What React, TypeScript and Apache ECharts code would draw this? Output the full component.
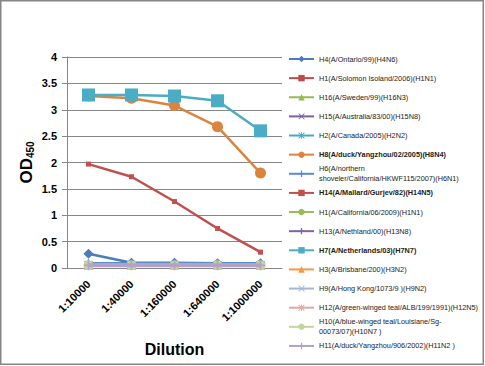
import React, { useEffect, useRef } from "react";
import * as echarts from "echarts";

const categories = ["1:10000", "1:40000", "1:160000", "1:640000", "1:1000000"];

const seriesNames = [
  "H4(A/Ontario/99)(H4N6)",
  "H1(A/Solomon Isoland/2006)(H1N1)",
  "H16(A/Sweden/99)(H16N3)",
  "H15(A/Australia/83/00)(H15N8)",
  "H2(A/Canada/2005)(H2N2)",
  "H8(A/duck/Yangzhou/02/2005)(H8N4)",
  "H6(A/northern\nshoveler/California/HKWF115/2007)(H6N1)",
  "H14(A/Mallard/Gurjev/82)(H14N5)",
  "H1(A/California/06/2009)(H1N1)",
  "H13(A/Nethland/00)(H13N8)",
  "H7(A/Netherlands/03)(H7N7)",
  "H3(A/Brisbane/200)(H3N2)",
  "H9(A/Hong Kong/1073/9 )(H9N2)",
  "H12(A/green-winged teal/ALB/199/1991)(H12N5)",
  "H10(A/blue-winged teal/Louisiane/Sg-\n00073/07)(H10N7 )",
  "H11(A/duck/Yangzhou/906/2002)(H11N2 )",
];

const h4 = [0.27, 0.1, 0.1, 0.09, 0.09];
const h1Solomon = [0.06, 0.06, 0.06, 0.06, 0.06];
const h16 = [0.07, 0.07, 0.07, 0.07, 0.07];
const h15 = [0.06, 0.06, 0.06, 0.06, 0.06];
const h2 = [0.06, 0.06, 0.06, 0.06, 0.06];
const h8 = [3.26, 3.22, 3.08, 2.68, 1.8];
const h6 = [0.09, 0.09, 0.09, 0.09, 0.09];
const h14 = [1.97, 1.73, 1.26, 0.75, 0.3];
const h1California = [0.07, 0.07, 0.07, 0.07, 0.07];
const h13 = [0.05, 0.05, 0.05, 0.05, 0.05];
const h7 = [3.28, 3.28, 3.26, 3.17, 2.6];
const h3 = [0.05, 0.05, 0.05, 0.05, 0.05];
const h9 = [0.05, 0.05, 0.05, 0.05, 0.05];
const h12 = [0.05, 0.05, 0.05, 0.05, 0.05];
const h10 = [0.05, 0.05, 0.05, 0.05, 0.05];
const h11 = [0.05, 0.05, 0.05, 0.05, 0.05];

const seriesValues = [h4, h1Solomon, h16, h15, h2, h8, h6, h14, h1California, h13, h7, h3, h9, h12, h10, h11];

const yTicks = ["0", "0.5", "1", "1.5", "2", "2.5", "3", "3.5", "4"];

const X_PATH = "path://M0 1L1 0L5 4L9 0L10 1L6 5L10 9L9 10L5 6L1 10L0 9L4 5Z";
const PLUS_PATH = "path://M4 0H6V4H10V6H6V10H4V6H0V4H4Z";
const STAR_PATH =
  "path://M0 1L1 0L5 4L9 0L10 1L6 5L10 9L9 10L5 6L1 10L0 9L4 5ZM4.3 0H5.7V10H4.3Z";

const styles = [
  { color: "#4A7EBB", symbol: "diamond", size: 10 },
  { color: "#BE4B48", symbol: "rect", size: 6 },
  { color: "#98B954", symbol: "triangle", size: 8 },
  { color: "#7D60A0", symbol: X_PATH, size: 8 },
  { color: "#46AAC5", symbol: STAR_PATH, size: 8 },
  { color: "#DB843D", symbol: "circle", size: 11 },
  { color: "#5B8BCB", symbol: PLUS_PATH, size: 8 },
  { color: "#C0504D", symbol: "rect", size: 5 },
  { color: "#9BBB59", symbol: "none", size: 0 },
  { color: "#8064A2", symbol: PLUS_PATH, size: 9 },
  { color: "#4BACC6", symbol: "rect", size: 13 },
  { color: "#F79646", symbol: "triangle", size: 9 },
  { color: "#A5B6D8", symbol: X_PATH, size: 9 },
  { color: "#DFA7A6", symbol: STAR_PATH, size: 9 },
  { color: "#C3D69B", symbol: "circle", size: 10 },
  { color: "#B3A2C7", symbol: PLUS_PATH, size: 9 },
];

const boldNames = new Set([5, 7, 10]);

export default function App() {
  const ref = useRef<HTMLDivElement>(null);
  useEffect(() => {
    document.body.style.margin = "0";
    if (!ref.current) return;
    const chart = echarts.init(ref.current, undefined, { renderer: "svg" });

    const series = seriesNames.map((name, i) => ({
      name,
      type: "line",
      data: seriesValues[i],
      symbol: styles[i].symbol,
      symbolSize: styles[i].size,
      showSymbol: styles[i].symbol !== "none",
      lineStyle: { color: styles[i].color, width: i === 15 ? 4 : 2.5 },
      itemStyle: { color: styles[i].color },
      z: 2 + i,
    }));

    const legends = seriesNames.map((name, i) => {
      const twoLine = name.includes("\n");
      const center = 59 + i * 19.13;
      return {
        show: true,
        orient: "vertical",
        left: 288,
        top: twoLine ? center - 15 : center - 5,
        padding: 0,
        itemWidth: 25,
        itemHeight: 8,
        itemGap: 0,
        data: [name],
        selectedMode: false,
        textStyle: {
          fontFamily: "Liberation Sans",
          fontSize: 7.3,
          lineHeight: 10,
          color: "#1a1a1a",
          fontWeight: boldNames.has(i) ? "bold" : "normal",
          padding: twoLine ? [10, 0, 0, 0] : 0,
        },
      };
    });

    chart.setOption({
      animation: false,
      backgroundColor: "#ffffff",
      grid: { left: 67, top: 57, width: 215, height: 211, containLabel: false },
      legend: legends,
      graphic: [
        {
          type: "rect",
          shape: { x: 0.75, y: 0.75, width: 482.5, height: 363.5 },
          style: { fill: "none", stroke: "#868686", lineWidth: 1.5 },
          silent: true,
          z: 100,
        },
      ],
      xAxis: {
        type: "category",
        data: categories,
        boundaryGap: true,
        name: "Dilution",
        nameLocation: "middle",
        nameGap: 73,
        nameTextStyle: { fontFamily: "Liberation Sans", fontSize: 16, fontWeight: "bold", color: "#000" },
        axisLine: { lineStyle: { color: "#868686", width: 1 } },
        axisTick: { show: false },
        axisLabel: {
          rotate: 45,
          margin: 14,
          fontFamily: "Liberation Sans",
          fontSize: 11,
          fontWeight: "bold",
          color: "#000",
        },
      },
      yAxis: {
        type: "value",
        min: 0,
        max: 4,
        interval: 0.5,
        name: "{a|OD}{s|450}",
        nameLocation: "middle",
        nameRotate: 90,
        nameGap: 32,
        nameTextStyle: {
          rich: {
            a: { fontFamily: "Liberation Sans", fontSize: 17, fontWeight: "bold", color: "#000", lineHeight: 22, verticalAlign: "bottom" },
            s: { fontFamily: "Liberation Sans", fontSize: 10, fontWeight: "bold", color: "#000", lineHeight: 22, verticalAlign: "bottom", padding: [6, 0, 0, 0] },
          },
        },
        axisLine: { show: true, lineStyle: { color: "#868686", width: 1 } },
        axisTick: { show: true, inside: false, length: 5, lineStyle: { color: "#868686" } },
        splitLine: { lineStyle: { color: "#868686", width: 1 } },
        axisLabel: {
          margin: 10,
          fontFamily: "Liberation Sans",
          fontSize: 11,
          fontWeight: "bold",
          color: "#000",
          formatter: (v: number) => {
            const idx = Math.round(v / 0.5);
            return yTicks[idx] ?? String(v);
          },
        },
      },
      series,
    });
    return () => chart.dispose();
  }, []);

  return <div ref={ref} style={{ width: 485, height: 366 }} />;
}
